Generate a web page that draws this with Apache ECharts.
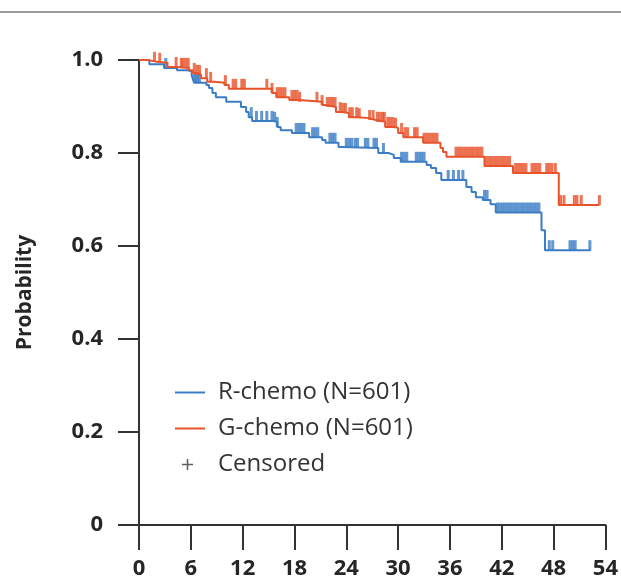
<!DOCTYPE html>
<html><head><meta charset="utf-8">
<script src="https://cdn.jsdelivr.net/npm/echarts@6/dist/echarts.min.js"></script>
<style>html,body{margin:0;padding:0;background:#fff}#c{width:621px;height:582px}</style>
</head><body><div id="c"></div>
<script>
// R-chemo Kaplan-Meier steps (months, survival probability)
const rTime = [0, 1.2, 2.9, 4.4, 5.6, 6.1, 6.2, 6.4, 7.8, 8.1, 8.5, 8.9, 10.1, 11.8, 12.4, 12.7, 13.1, 15.6, 16.0, 16.4, 17.7, 19.7, 21.2, 21.6, 23.1, 23.5, 27.7, 28.9, 29.5, 30.3, 33.3, 33.8, 34.4, 35.0, 37.9, 38.5, 39.0, 39.8, 40.7, 41.3, 46.6, 47.0, 52.3];
const rSurv = [1.0, 0.991, 0.983, 0.978, 0.976, 0.968, 0.961, 0.951, 0.946, 0.940, 0.929, 0.920, 0.910, 0.899, 0.888, 0.877, 0.869, 0.867, 0.856, 0.849, 0.843, 0.834, 0.828, 0.822, 0.813, 0.811, 0.800, 0.796, 0.789, 0.781, 0.774, 0.768, 0.757, 0.742, 0.727, 0.716, 0.705, 0.699, 0.690, 0.672, 0.634, 0.591, 0.591];
// G-chemo Kaplan-Meier steps
const gTime = [0, 1.0, 2.1, 3.3, 4.4, 5.8, 6.2, 6.7, 7.2, 7.9, 8.7, 9.9, 10.4, 15.4, 15.9, 17.4, 18.5, 21.2, 21.6, 22.8, 23.5, 24.3, 25.4, 26.6, 27.4, 28.5, 29.5, 30.0, 30.6, 32.9, 34.9, 35.2, 35.6, 40.0, 43.3, 48.6, 53.3];
const gSurv = [1.0, 0.996, 0.994, 0.985, 0.983, 0.978, 0.972, 0.968, 0.961, 0.953, 0.951, 0.946, 0.938, 0.929, 0.920, 0.914, 0.910, 0.903, 0.899, 0.888, 0.886, 0.877, 0.875, 0.871, 0.867, 0.856, 0.854, 0.843, 0.834, 0.822, 0.811, 0.802, 0.792, 0.772, 0.757, 0.688, 0.688];
// censoring times (months)
const rCens = [3.1, 6.4, 6.6, 6.8, 7.0, 13.0, 13.6, 14.2, 14.8, 15.4, 15.7, 16.0, 18.2, 18.5, 18.8, 19.1, 20.1, 20.4, 20.7, 22.1, 22.4, 22.7, 24.0, 24.3, 24.6, 25.0, 25.3, 26.2, 26.5, 27.2, 27.5, 28.3, 30.4, 30.7, 31.0, 32.1, 32.4, 32.7, 33.0, 35.8, 36.4, 37.0, 37.5, 40.0, 40.3, 41.5, 41.8, 42.1, 42.4, 42.7, 43.0, 43.3, 43.6, 43.9, 44.2, 44.5, 44.8, 45.1, 45.4, 45.7, 46.0, 46.3, 47.5, 47.9, 49.9, 50.2, 50.5, 52.2];
const gCens = [1.8, 2.4, 4.3, 4.9, 5.1, 5.4, 5.7, 6.4, 6.7, 7.0, 7.8, 8.3, 10.0, 10.9, 11.2, 11.9, 12.2, 14.8, 15.4, 16.0, 16.3, 16.6, 16.9, 17.7, 18.0, 18.3, 18.6, 20.6, 21.2, 21.8, 22.1, 22.4, 22.7, 23.3, 23.6, 23.9, 24.4, 24.7, 25.2, 25.5, 26.7, 27.1, 27.6, 27.9, 28.2, 28.4, 28.8, 29.1, 29.4, 29.7, 30.4, 30.8, 31.1, 31.9, 32.2, 33.0, 33.3, 33.6, 33.9, 34.2, 34.5, 36.7, 37.0, 37.3, 37.6, 37.9, 38.2, 38.5, 38.8, 39.1, 39.4, 39.7, 40.2, 40.5, 40.8, 41.1, 41.4, 41.7, 42.0, 42.3, 42.6, 42.9, 43.6, 43.9, 44.2, 44.5, 44.8, 45.5, 45.8, 46.1, 46.4, 47.2, 47.5, 47.8, 48.2, 48.8, 49.2, 50.4, 50.7, 51.2, 53.3];
const xTicks = [0, 6, 12, 18, 24, 30, 36, 42, 48, 54];
const yTicks = [0, 0.2, 0.4, 0.6, 0.8, 1.0];
const seriesNames = ['R-chemo (N=601)', 'G-chemo (N=601)', 'Censored'];

const BLUE = '#3b7dc5', ORANGE = '#e9532a';
function survAt(times, surv, t) {
  let s = surv[0];
  for (let i = 0; i < times.length; i++) { if (times[i] <= t) s = surv[i]; else break; }
  return s;
}
const zip = (a, b) => a.map((v, i) => [v, b[i]]);
const FONT = 'Open Sans';
const chart = echarts.init(document.getElementById('c'), null, {renderer: 'canvas'});
const plusIcon = 'path://M0,0M30,14M7,6.25H18V7.75H7ZM11.75,1.5H13.25V12.5H11.75Z';
const lineIcon = 'path://M0,0M30,14M0,6H30V8H0Z';
chart.setOption({
  animation: false,
  grid: {left: 139, right: 14, top: 60, bottom: 57},
  graphic: [{type: 'line', shape: {x1: 0, y1: 12, x2: 621, y2: 12}, style: {stroke: '#9a9a9a', lineWidth: 2}}],
  xAxis: {
    type: 'value', min: xTicks[0], max: xTicks[xTicks.length - 1], interval: 6,
    axisLine: {lineStyle: {color: '#333', width: 2}},
    axisTick: {length: 25, lineStyle: {color: '#333', width: 2}},
    axisLabel: {fontSize: 22, color: '#262626', margin: 33, fontFamily: FONT, fontWeight: 'bold'},
    splitLine: {show: false}
  },
  yAxis: {
    type: 'value', min: yTicks[0], max: yTicks[yTicks.length - 1], interval: 0.2,
    name: 'Probability', nameLocation: 'middle', nameGap: 103,
    nameTextStyle: {fontSize: 21, fontWeight: 'bold', color: '#262626', fontFamily: FONT},
    axisLine: {show: true, lineStyle: {color: '#333', width: 2}},
    axisTick: {show: true, length: 21, lineStyle: {color: '#333', width: 2}},
    axisLabel: {fontSize: 22, color: '#262626', margin: 36, fontFamily: FONT, fontWeight: 'bold',
      formatter: v => v === 0 ? '0' : v.toFixed(1)},
    splitLine: {show: false}
  },
  legend: {
    orient: 'vertical', left: 175, top: 380, padding: 0, itemWidth: 30, itemHeight: 14, itemGap: 11,
    selectedMode: false,
    textStyle: {fontSize: 24, color: '#333', fontFamily: FONT, padding: [0, 0, 0, 8], lineHeight: 25},
    data: [{name: seriesNames[0], icon: lineIcon}, {name: seriesNames[1], icon: lineIcon}, {name: seriesNames[2], icon: plusIcon}]
  },
  series: [
    {name: seriesNames[0], type: 'line', step: 'end', symbol: 'none', silent: true,
     lineStyle: {color: BLUE, width: 2}, itemStyle: {color: BLUE}, data: zip(rTime, rSurv)},
    {name: 'R censored', type: 'scatter', symbol: 'rect', symbolSize: [3, 10], symbolOffset: [0, -5], silent: true,
     itemStyle: {color: BLUE}, data: rCens.map(t => [t, survAt(rTime, rSurv, t)])},
    {name: seriesNames[1], type: 'line', step: 'end', symbol: 'none', silent: true,
     lineStyle: {color: ORANGE, width: 2}, itemStyle: {color: ORANGE}, data: zip(gTime, gSurv)},
    {name: 'G censored', type: 'scatter', symbol: 'rect', symbolSize: [3, 10], symbolOffset: [0, -5], silent: true,
     itemStyle: {color: ORANGE}, data: gCens.map(t => [t, survAt(gTime, gSurv, t)])},
    {name: seriesNames[2], type: 'scatter', data: [], itemStyle: {color: '#333'}}
  ]
});
</script></body></html>
